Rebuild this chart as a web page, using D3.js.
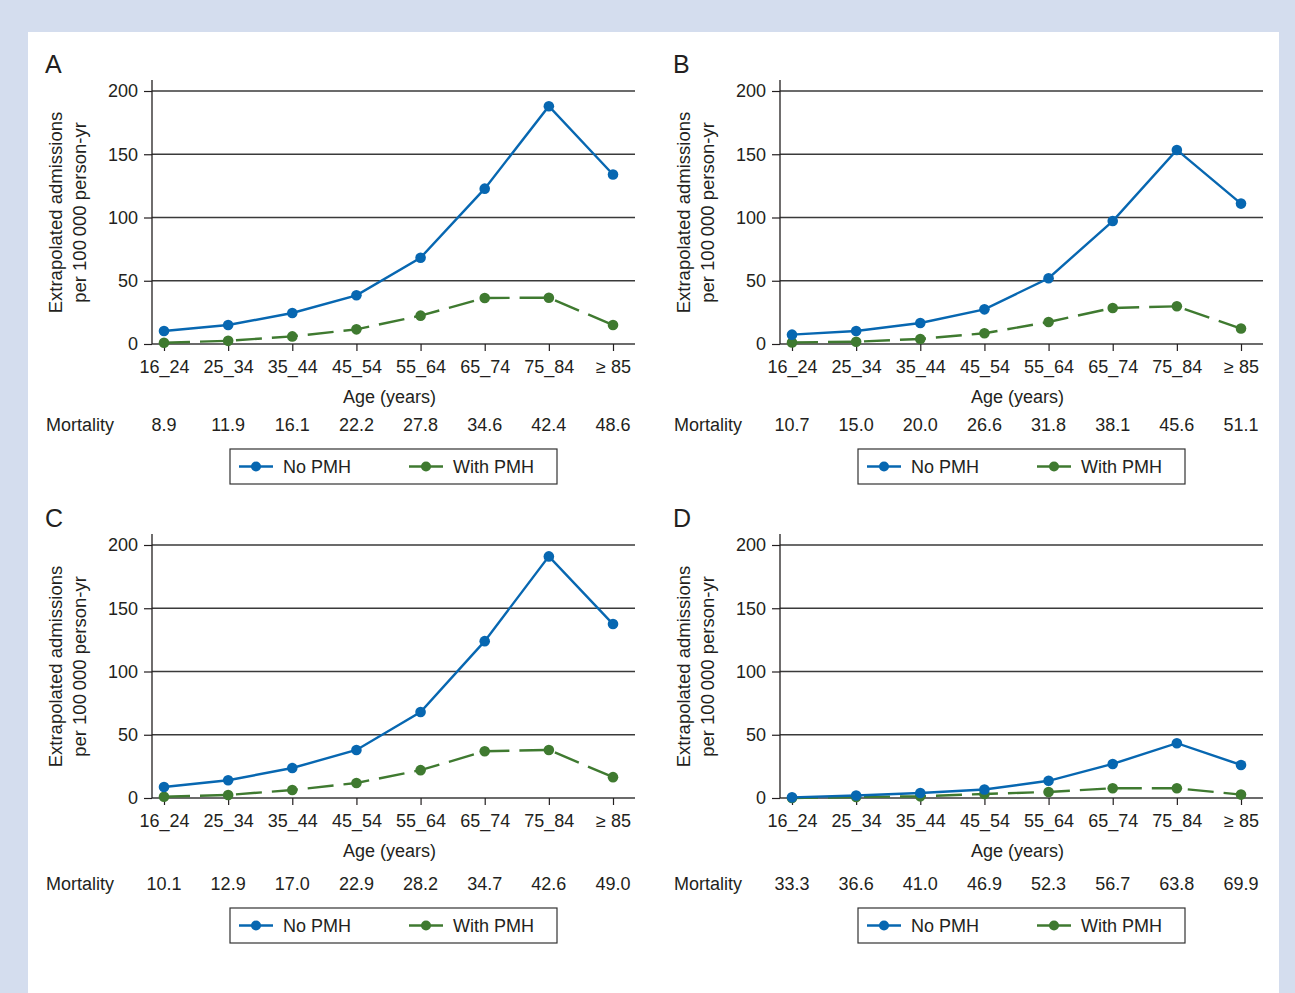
<!DOCTYPE html>
<html>
<head>
<meta charset="utf-8">
<script src="https://d3js.org/d3.v7.min.js"></script>
<style>
  body { margin: 0; background: #d4ddee; }
  text { font-family: "Liberation Sans", Arial, sans-serif; fill: #231f20; }
</style>
</head>
<body>
<div id="chart"></div>
<script>
// data
var ageGroups = ["16_24", "25_34", "35_44", "45_54", "55_64", "65_74", "75_84", "\u2265 85"];
var yTicks = [0, 50, 100, 150, 200];
var panelLetters = ["A", "B", "C", "D"];

var noPmhA = [10.3, 15, 24.5, 38.5, 68.2, 122.8, 188, 134];
var withPmhA = [1, 2.5, 6, 11.6, 22.4, 36.4, 36.6, 15];
var mortalityA = ["8.9", "11.9", "16.1", "22.2", "27.8", "34.6", "42.4", "48.6"];

var noPmhB = [7.4, 10.3, 16.6, 27.4, 52, 97.2, 153.4, 111];
var withPmhB = [1.2, 1.8, 4, 8.5, 17.4, 28.5, 29.8, 12.2];
var mortalityB = ["10.7", "15.0", "20.0", "26.6", "31.8", "38.1", "45.6", "51.1"];

var noPmhC = [8.7, 14, 23.7, 38, 68, 124, 191, 137.5];
var withPmhC = [1, 2.4, 6.3, 11.9, 22, 37, 38, 16.5];
var mortalityC = ["10.1", "12.9", "17.0", "22.9", "28.2", "34.7", "42.6", "49.0"];

var noPmhD = [0.5, 2, 4, 6.7, 13.6, 26.9, 43.3, 26.1];
var withPmhD = [0, 0.8, 1.3, 3.2, 4.8, 7.7, 7.7, 2.7];
var mortalityD = ["33.3", "36.6", "41.0", "46.9", "52.3", "56.7", "63.8", "69.9"];

var seriesNames = ["No PMH", "With PMH"];
var colors = ["#0767b1", "#3f7a30"];

var panels = [
  {letter: panelLetters[0], noPmh: noPmhA, withPmh: withPmhA, mortality: mortalityA},
  {letter: panelLetters[1], noPmh: noPmhB, withPmh: withPmhB, mortality: mortalityB},
  {letter: panelLetters[2], noPmh: noPmhC, withPmh: withPmhC, mortality: mortalityC},
  {letter: panelLetters[3], noPmh: noPmhD, withPmh: withPmhD, mortality: mortalityD}
];

// dimensions
var W = 1295, H = 993;
var plotW = 483, plotH = 253;
var colX = [152, 780], rowY = [91, 545];

var svg = d3.select("#chart")
  .append("svg")
    .attr("width", W)
    .attr("height", H);

// white card on the blue page
svg.append("rect")
  .attr("x", 28).attr("y", 32)
  .attr("width", 1251).attr("height", H - 32)
  .attr("fill", "#fff");

var x = d3.scalePoint()
  .domain(ageGroups)
  .range([12, plotW - 22]);

var y = d3.scaleLinear()
  .domain([0, 200])
  .range([plotH, 0]);

panels.forEach(function(p, i) {
  var row = Math.floor(i / 2), col = i % 2;
  var shift = row * 5;  // footer of the lower row sits a bit lower
  var g = svg.append("g")
    .attr("transform", "translate(" + colX[col] + "," + rowY[row] + ")");

  // panel letter
  g.append("text")
    .attr("x", -107).attr("y", -18)
    .style("font-size", "25px")
    .text(p.letter);

  // gridlines
  g.selectAll(".grid")
    .data(yTicks)
    .enter()
    .append("line")
      .attr("x1", 0).attr("x2", plotW)
      .attr("y1", function(d) { return y(d); })
      .attr("y2", function(d) { return y(d); })
      .attr("stroke", "#3a3a3a")
      .attr("stroke-width", 1.3);

  // y axis
  var yAxis = g.append("g")
    .call(d3.axisLeft(y).tickValues(yTicks).tickSize(8).tickPadding(6));
  yAxis.select(".domain").remove();
  yAxis.selectAll(".tick line").attr("stroke", "#231f20").attr("stroke-width", 1.2);
  yAxis.selectAll("text").style("font-size", "18px").attr("fill", "#231f20");
  g.append("line")
    .attr("x1", 0).attr("x2", 0)
    .attr("y1", -11).attr("y2", plotH)
    .attr("stroke", "#231f20").attr("stroke-width", 1.3);

  // x axis
  var xAxis = g.append("g")
    .attr("transform", "translate(0," + plotH + ")")
    .call(d3.axisBottom(x).tickSize(7).tickPadding(9));
  xAxis.select(".domain").remove();
  xAxis.selectAll(".tick line").attr("stroke", "#231f20").attr("stroke-width", 1.2);
  xAxis.selectAll("text").style("font-size", "18px").attr("fill", "#231f20");

  // axis titles
  g.append("text")
    .attr("x", plotW / 2 - 4).attr("y", plotH + 59)
    .attr("text-anchor", "middle")
    .style("font-size", "18px")
    .text("Age (years)");

  var yl = g.append("text")
    .attr("transform", "translate(-90," + (plotH / 2 - 5) + ")rotate(-90)")
    .attr("text-anchor", "middle")
    .style("font-size", "18.5px");
  yl.append("tspan").attr("x", 0).attr("y", 0).text("Extrapolated admissions");
  yl.append("tspan").attr("x", 0).attr("y", 24).text("per 100\u2009000 person-yr");

  // mortality row
  g.append("text")
    .attr("x", -106).attr("y", plotH + 87 + shift)
    .style("font-size", "18px")
    .text("Mortality");
  g.selectAll(".mort")
    .data(p.mortality)
    .enter()
    .append("text")
      .attr("x", function(d, j) { return x(ageGroups[j]); })
      .attr("y", plotH + 87 + shift)
      .attr("text-anchor", "middle")
      .style("font-size", "18px")
      .text(function(d) { return d; });

  // lines
  var line = d3.line()
    .x(function(d, j) { return x(ageGroups[j]); })
    .y(function(d) { return y(d); });

  [p.withPmh, p.noPmh].forEach(function(vals) {
    var s = vals === p.noPmh ? 0 : 1;
    g.append("path")
      .datum(vals)
      .attr("d", line)
      .attr("fill", "none")
      .attr("stroke", colors[s])
      .attr("stroke-width", 2.4)
      .attr("stroke-dasharray", s === 1 ? "26,10" : null);
    g.selectAll(".pt" + s)
      .data(vals)
      .enter()
      .append("circle")
        .attr("cx", function(d, j) { return x(ageGroups[j]); })
        .attr("cy", function(d) { return y(d); })
        .attr("r", 5.3)
        .attr("fill", colors[s]);
  });

  // legend
  var lg = g.append("g")
    .attr("transform", "translate(78," + (plotH + 105 + shift) + ")");
  lg.append("rect")
    .attr("x", 0).attr("y", 0)
    .attr("width", 327).attr("height", 35)
    .attr("fill", "#fff")
    .attr("stroke", "#333")
    .attr("stroke-width", 1.2);
  var itemX = [9, 179];
  seriesNames.forEach(function(name, s) {
    lg.append("line")
      .attr("x1", itemX[s]).attr("x2", itemX[s] + 34)
      .attr("y1", 17.5).attr("y2", 17.5)
      .attr("stroke", colors[s]).attr("stroke-width", 2.4);
    lg.append("circle")
      .attr("cx", itemX[s] + 17).attr("cy", 17.5)
      .attr("r", 5).attr("fill", colors[s]);
    lg.append("text")
      .attr("x", itemX[s] + 44).attr("y", 24)
      .style("font-size", "18px")
      .text(name);
  });
});
</script>
</body>
</html>
